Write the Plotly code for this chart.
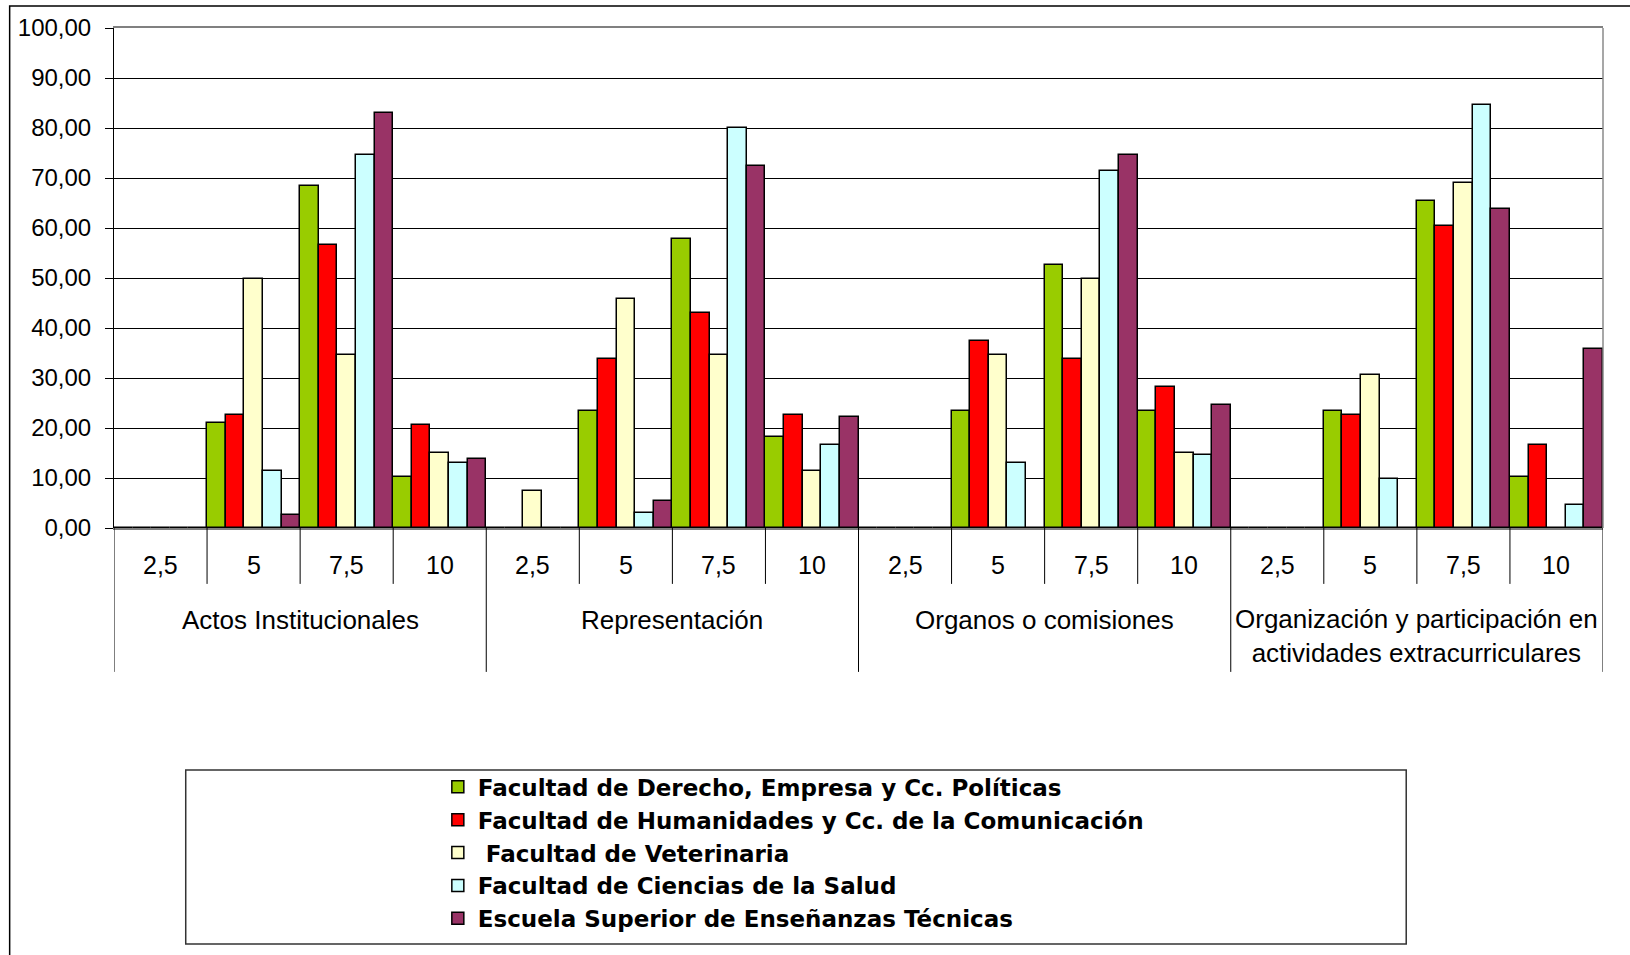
import plotly.graph_objects as go

# ---------------- data ----------------
groups = ["Actos Institucionales", "Representación", "Organos o comisiones",
          "Organización y participación en<br>actividades extracurriculares"]
scores = ["2,5", "5", "7,5", "10"]

series_names = ["Facultad de Derecho, Empresa y Cc. Políticas",
                "Facultad de Humanidades y Cc. de la Comunicación",
                " Facultad de Veterinaria",
                "Facultad de Ciencias de la Salud",
                "Escuela Superior de Enseñanzas Técnicas"]
series_colors = ["#99CC00", "#FF0000", "#FFFFCC", "#CCFFFF", "#993366"]

derecho = [0, 21.1, 68.4, 10.3,   0, 23.4, 57.9, 18.3,   0, 23.4, 52.7, 23.4,   0, 23.4, 65.4, 10.3]
humanidades = [0, 22.7, 56.7, 20.7,   0, 33.9, 43.1, 22.6,   0, 37.4, 33.9, 28.3,   0, 22.6, 60.4, 16.6]
veterinaria = [0, 49.9, 34.6, 15.1,   7.4, 45.9, 34.6, 11.4,   0, 34.6, 49.9, 15.1,   0, 30.6, 69.1, 0]
salud = [0, 11.4, 74.7, 13.1,   0, 3.0, 80.0, 16.6,   0, 13.0, 71.4, 14.6,   0, 9.9, 84.7, 4.7]
tecnicas = [0, 2.6, 83.1, 13.9,   0, 5.4, 72.4, 22.3,   0, 0, 74.7, 24.6,   0, 0, 63.9, 35.9]
series_values = [derecho, humanidades, veterinaria, salud, tecnicas]

# ---------------- layout constants (pixels) ----------------
W, H = 1630, 955
L, R, T = 114.3, 1602.7, 28.1
B = 528.1
PW, PH = R - L, B - T
FONT = "Liberation Sans"

def px(p):
    return (p - L) / PW

def py(p):
    return (B - p) / PH

n = len(groups) * len(scores)
xpos = list(range(n))

fig = go.Figure()
for name, color, vals in zip(series_names, series_colors, series_values):
    fig.add_trace(go.Bar(
        x=xpos, y=vals, name=name,
        marker=dict(color=color, line=dict(color="#000000", width=1.5)),
    ))

shapes = []
annotations = []
# inner category labels and dividers
for i in range(n):
    annotations.append(dict(x=i, y=py(565.5), xref="x", yref="paper",
                            text=scores[i % len(scores)], showarrow=False,
                            font=dict(family=FONT, size=25, color="black"),
                            xanchor="center", yanchor="middle"))
for i in range(n + 1):
    is_outer = (i % len(scores) == 0)
    shapes.append(dict(type="line", xref="x", yref="paper",
                       x0=i - 0.5, x1=i - 0.5, y0=0,
                       y1=py(672) if is_outer else py(584),
                       line=dict(color="black", width=1)))
# outer group labels
for g, gname in enumerate(groups):
    center = g * len(scores) + (len(scores) - 1) / 2
    two_lines = "<br>" in gname
    annotations.append(dict(x=center, y=py(636 if two_lines else 620), xref="x", yref="paper",
                            text=gname, showarrow=False,
                            font=dict(family=FONT, size=26, color="black"),
                            xanchor="center", yanchor="middle"))

# right border of plot area (gray)
shapes.append(dict(type="line", xref="paper", yref="paper", x0=1, x1=1, y0=0, y1=1,
                   line=dict(color="#8a8a8a", width=1.5)))
# outer chart frame
shapes.append(dict(type="rect", xref="paper", yref="paper",
                   x0=px(10), x1=px(W + 10), y0=py(6), y1=py(H + 10),
                   line=dict(color="black", width=1.5)))
# legend frame
shapes.append(dict(type="rect", xref="paper", yref="paper",
                   x0=px(186), x1=px(1406), y0=py(770), y1=py(944),
                   line=dict(color="#333333", width=1.5)))

fig.update_layout(
    width=W, height=H,
    margin=dict(l=L, r=W - R, t=T, b=H - B, pad=0),
    paper_bgcolor="white", plot_bgcolor="white",
    barmode="group", bargap=0, bargroupgap=0,
    separators=",.",
    font=dict(family=FONT, color="black"),
    xaxis=dict(range=[-0.5, n - 0.5], showticklabels=False, ticks="",
               showgrid=False, zeroline=False,
               showline=True, linecolor="#808080", linewidth=1.5, mirror=True),
    yaxis=dict(range=[0, 100], dtick=10, tickformat=".2f",
               showgrid=True, gridcolor="black", gridwidth=1,
               zeroline=False, showline=True, linecolor="black", linewidth=1,
               ticks="outside", ticklen=8, tickcolor="black",
               ticklabelstandoff=9,
               tickfont=dict(family=FONT, size=24, color="black")),
    showlegend=True,
    legend=dict(x=px(438), y=py(765.4), xanchor="left", yanchor="top",
                font=dict(family="DejaVu Sans", size=23, color="black", weight="bold"),
                bgcolor="rgba(0,0,0,0)", borderwidth=0, traceorder="normal"),
    shapes=shapes, annotations=annotations,
)

fig.write_html("out.html", config={"displayModeBar": False},
               post_script="document.body.style.margin='0';")
